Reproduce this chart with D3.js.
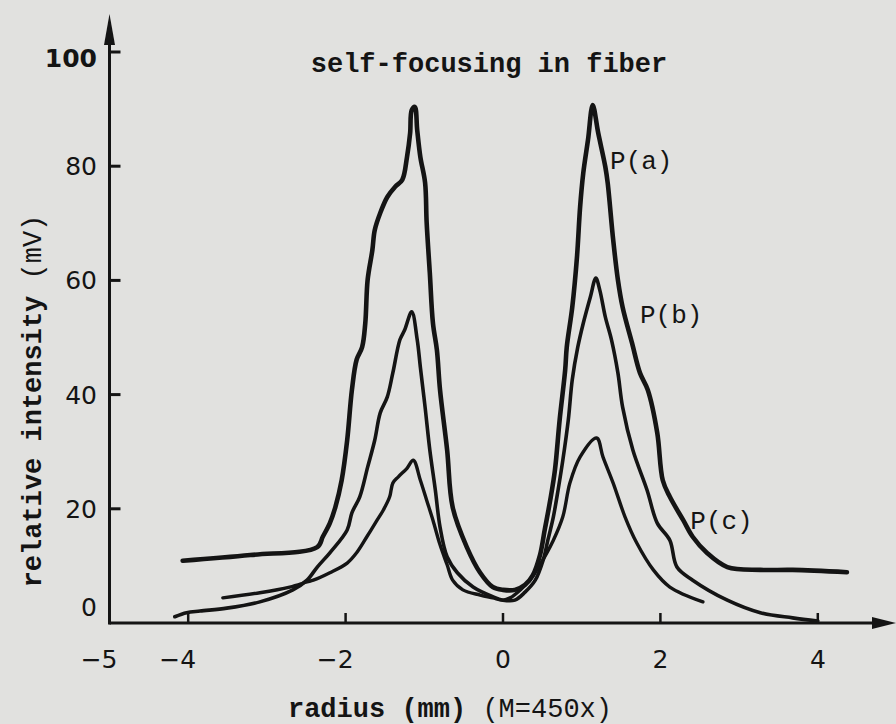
<!DOCTYPE html>
<html>
<head>
<meta charset="utf-8">
<script src="https://cdn.jsdelivr.net/npm/d3@7"></script>
<style>
  body { margin: 0; background: #e1e1df; }
  svg { display: block; }
</style>
</head>
<body>
<div id="chart"></div>
<script>
// traced values: [radius (mm), relative intensity (mV)]
var curveA = [
  [-4.07, 10.9], [-3.21, 11.9], [-2.36, 13.3], [-2.29, 15.1], [-2.2, 17.5], [-2.13, 20.3],
  [-2.05, 25.0], [-1.98, 32.0], [-1.92, 40.8], [-1.86, 46.1], [-1.79, 48.3], [-1.75, 52.5],
  [-1.72, 60.1], [-1.66, 65.3], [-1.63, 68.8], [-1.56, 71.8], [-1.47, 74.6], [-1.37, 76.4],
  [-1.28, 77.6], [-1.22, 81.6], [-1.18, 85.8], [-1.16, 89.8], [-1.12, 90.4], [-1.09, 86.3],
  [-1.05, 81.6], [-0.99, 77.1], [-0.97, 70.1], [-0.93, 61.3], [-0.89, 52.5], [-0.84, 47.8],
  [-0.8, 40.8], [-0.71, 30.3], [-0.64, 20.3], [-0.46, 13.3], [-0.29, 8.8], [-0.13, 6.3],
  [0, 5.8], [0.15, 5.8], [0.28, 6.7], [0.38, 8.4], [0.47, 11.9], [0.53, 16.3], [0.6, 21.5],
  [0.66, 26.8], [0.72, 35.6], [0.79, 44.3], [0.81, 48.3], [0.88, 55.3], [0.94, 64.1],
  [0.98, 72.9], [1.02, 78.8], [1.08, 84.6], [1.14, 90.7], [1.21, 85.8], [1.3, 79.9],
  [1.33, 77.1], [1.4, 67.1], [1.46, 60.1], [1.52, 55.3], [1.64, 49.0], [1.74, 43.8],
  [1.84, 40.8], [1.96, 33.3], [2.03, 25.0], [2.12, 22.1], [2.29, 18.0], [2.41, 15.1],
  [2.59, 12.3], [2.85, 9.8], [3.27, 9.3], [3.68, 9.3], [4.37, 8.9]
];

var curveB = [
  [-4.17, 1.1], [-4.02, 1.8], [-3.85, 2.1], [-3.51, 2.6], [-3.09, 3.7], [-2.67, 5.8],
  [-2.49, 7.5], [-2.36, 9.8], [-2.2, 12.3], [-1.98, 16.3], [-1.92, 19.3], [-1.82, 22.1],
  [-1.72, 27.3], [-1.63, 32.0], [-1.56, 36.8], [-1.47, 39.6], [-1.4, 43.8], [-1.31, 49.6],
  [-1.25, 51.3], [-1.16, 54.5], [-1.09, 49.6], [-1.05, 44.8], [-0.99, 37.8], [-0.93, 30.3],
  [-0.86, 23.3], [-0.8, 16.8], [-0.71, 11.6], [-0.58, 8.8], [-0.38, 6.3], [-0.13, 4.6],
  [0, 4.0], [0.15, 4.0], [0.28, 5.4], [0.41, 7.5], [0.51, 11.0], [0.57, 14.5], [0.64, 18.6],
  [0.7, 23.3], [0.76, 28.5], [0.83, 35.6], [0.88, 42.6], [0.95, 48.3], [1.02, 52.5],
  [1.11, 57.1], [1.18, 60.4], [1.23, 58.3], [1.3, 53.6], [1.38, 49.5], [1.46, 43.8],
  [1.52, 37.8], [1.65, 30.3], [1.83, 23.3], [1.96, 17.5], [2.12, 14.5], [2.21, 9.8],
  [2.41, 7.5], [2.85, 4.0], [3.27, 1.8], [3.68, 0.9], [4.0, 0.35]
];

var curveC = [
  [-3.56, 4.4], [-3.09, 5.3], [-2.71, 6.3], [-2.49, 7.2], [-2.41, 7.5], [-2.2, 8.8],
  [-1.98, 10.5], [-1.86, 12.3], [-1.73, 15.1], [-1.6, 18.0], [-1.52, 19.8], [-1.44, 22.1],
  [-1.4, 24.5], [-1.33, 25.6], [-1.22, 27.1], [-1.14, 28.5], [-1.05, 25.0], [-0.97, 21.5],
  [-0.89, 18.0], [-0.8, 13.7], [-0.71, 10.2], [-0.64, 7.5], [-0.51, 5.8], [-0.29, 4.9],
  [-0.13, 4.4], [0, 4.0], [0.09, 4.4], [0.22, 5.8], [0.34, 7.5], [0.47, 10.2], [0.64, 14.5],
  [0.76, 18.6], [0.85, 24.5], [0.98, 29.1], [1.19, 32.4], [1.27, 29.1], [1.4, 24.5],
  [1.55, 18.6], [1.7, 14.0], [1.91, 9.3], [2.12, 6.3], [2.54, 3.7]
];

var xTicks = [-5, -4, -2, 0, 2, 4];
var yTicks = [0, 20, 40, 60, 80, 100];

var seriesLabels = [
  { text: "P(a)", x: 1.36, y: 79.5 },
  { text: "P(b)", x: 1.74, y: 52.5 },
  { text: "P(c)", x: 2.38, y: 16.5 }
];

var width = 896, height = 724;
var ink = "#141414";
var mono = "'Liberation Mono', 'DejaVu Sans Mono', monospace";
var sans = "'DejaVu Sans', sans-serif";

var svg = d3.select("#chart")
  .append("svg")
  .attr("width", width)
  .attr("height", height);

svg.append("rect")
  .attr("width", width)
  .attr("height", height)
  .attr("fill", "#e1e1df");

var x = d3.scaleLinear().domain([-5, 5]).range([109.5, 896.5]);
var y = d3.scaleLinear().domain([0, 100]).range([623, 52]);

// axes drawn by hand to get the arrow heads of the original
svg.append("line")
  .attr("x1", x(-5)).attr("x2", 880)
  .attr("y1", y(0)).attr("y2", y(0))
  .attr("stroke", ink).attr("stroke-width", 3);

svg.append("line")
  .attr("x1", x(-5)).attr("x2", x(-5))
  .attr("y1", y(0) + 1.5).attr("y2", 30)
  .attr("stroke", ink).attr("stroke-width", 3);

svg.append("path")
  .attr("d", "M" + x(-5) + ",14 L" + (x(-5) - 5.5) + ",45 L" + (x(-5) + 5.5) + ",45 Z")
  .attr("fill", ink);

svg.append("path")
  .attr("d", "M896," + y(0) + " L872," + (y(0) - 6) + " L872," + (y(0) + 6) + " Z")
  .attr("fill", ink);

// x ticks point up, y ticks point right
svg.selectAll(".xtick")
  .data(xTicks.filter((d) => d !== -5))
  .enter()
  .append("line")
  .attr("x1", (d) => x(d)).attr("x2", (d) => x(d))
  .attr("y1", y(0)).attr("y2", y(0) - 10)
  .attr("stroke", ink).attr("stroke-width", 2.5);

svg.selectAll(".ytick")
  .data(yTicks.filter((d) => d !== 0))
  .enter()
  .append("line")
  .attr("x1", x(-5)).attr("x2", x(-5) + 11)
  .attr("y1", (d) => y(d)).attr("y2", (d) => y(d))
  .attr("stroke", ink).attr("stroke-width", 3);

// digit is centred on the tick, minus sign hangs to the left
svg.selectAll(".xlabel")
  .data(xTicks)
  .enter()
  .append("text")
  .attr("x", (d) => x(d) + 8)
  .attr("y", 668)
  .attr("text-anchor", "end")
  .style("font-family", sans)
  .style("font-size", "25px")
  .attr("fill", ink)
  .text((d) => d < 0 ? "\u2212" + Math.abs(d) : d);

svg.selectAll(".ylabel")
  .data(yTicks)
  .enter()
  .append("text")
  .attr("x", 97)
  .attr("y", (d) => d === 0 ? y(0) - 16 : y(d) + (d === 100 ? 6 : 0))
  .attr("dy", "0.36em")
  .attr("text-anchor", "end")
  .style("font-family", sans)
  .style("font-size", "25px")
  .style("font-weight", (d) => d === 100 ? "bold" : "normal")
  .attr("fill", ink)
  .text((d) => d);

// curves
var line = d3.line()
  .x((d) => x(d[0]))
  .y((d) => y(d[1]))
  .curve(d3.curveCatmullRom.alpha(0.5));

[[curveA, 4.6], [curveB, 3.6], [curveC, 3.4]].forEach(function (c) {
  svg.append("path")
    .datum(c[0])
    .attr("d", line)
    .attr("fill", "none")
    .attr("stroke", ink)
    .attr("stroke-width", c[1])
    .attr("stroke-linejoin", "round")
    .attr("stroke-linecap", "round");
});

svg.selectAll(".plabel")
  .data(seriesLabels)
  .enter()
  .append("text")
  .attr("x", (d) => x(d.x))
  .attr("y", (d) => y(d.y))
  .style("font-family", mono)
  .style("font-size", "26px")
  .attr("fill", ink)
  .text((d) => d.text);

// title and axis titles
svg.append("text")
  .attr("x", 489)
  .attr("y", 72)
  .attr("text-anchor", "middle")
  .style("font-family", mono)
  .style("font-size", "27px")
  .style("font-weight", "bold")
  .attr("fill", ink)
  .text("self-focusing in fiber");

var xTitle = svg.append("text")
  .attr("x", 450)
  .attr("y", 717)
  .attr("text-anchor", "middle")
  .style("font-family", mono)
  .style("font-size", "27px")
  .attr("fill", ink);
xTitle.append("tspan").style("font-weight", "bold").text("radius (mm) ");
xTitle.append("tspan").text("(M=450x)");

var yTitle = svg.append("text")
  .attr("transform", "translate(41,401) rotate(-90)")
  .attr("text-anchor", "middle")
  .style("font-family", mono)
  .style("font-size", "27px")
  .attr("fill", ink);
yTitle.append("tspan").style("font-weight", "bold").text("relative intensity ");
yTitle.append("tspan").text("(mV)");
</script>
</body>
</html>
